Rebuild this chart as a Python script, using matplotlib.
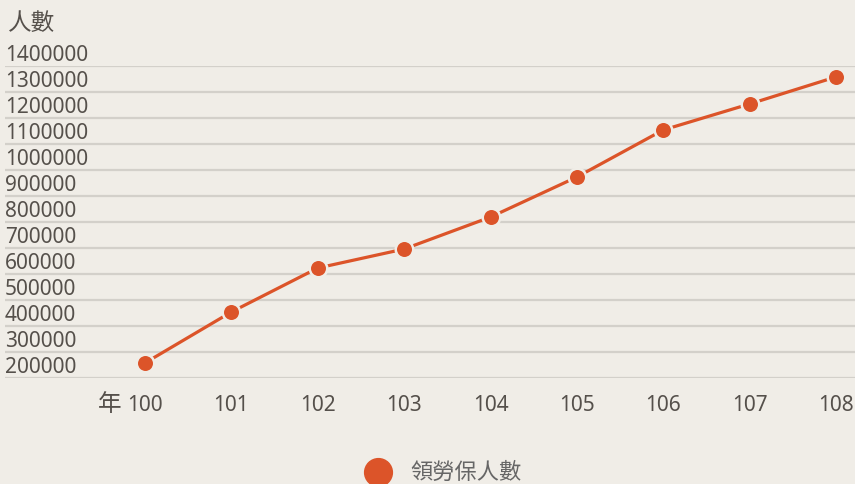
import matplotlib.pyplot as plt

plt.rcParams['font.family'] = ['Noto Sans', 'Noto Sans CJK TC', 'DejaVu Sans']

years = [100, 101, 102, 103, 104, 105, 106, 107, 108]
people = [258000, 454000, 623000, 696000, 819000, 973000, 1154000, 1254000, 1358000]
yticks = [200000, 300000, 400000, 500000, 600000, 700000, 800000, 900000,
          1000000, 1100000, 1200000, 1300000, 1400000]
series_name = '領勞保人數'

bg = '#f0ede7'
red = '#dc5429'
grid = '#d3d0ca'
txt = '#55504b'

fig = plt.figure(figsize=(8.55, 4.84), dpi=100, facecolor=bg)
ax = fig.add_axes([5 / 855, 106 / 484, 850 / 855, 312 / 484], facecolor=bg)

ax.plot(years, people, color=red, lw=2.3, marker='o', ms=12.6,
        mfc=red, mec=bg, mew=1.8, clip_on=False, zorder=3)

ax.set_xlim(98.379, 108.22)
ax.set_ylim(200000, 1400000)
ax.set_yticks(yticks)
ax.set_yticklabels([str(v) for v in yticks])
ax.set_xticks(years)
ax.set_xticklabels([str(v) for v in years])

for lab in ax.get_yticklabels():
    lab.set_ha('left')
    lab.set_va('bottom')
ax.tick_params(axis='y', length=0, pad=0, labelsize=15, labelcolor=txt)
ax.tick_params(axis='x', length=0, pad=12, labelsize=15, labelcolor=txt)

ax.grid(axis='y', color=grid, lw=1.6)
ax.set_axisbelow(True)
for s in ax.spines.values():
    s.set_visible(False)

ax.annotate('年', xy=(years[0], 200000), xytext=(-17, -19.5),
            textcoords='offset points', ha='right', va='center',
            fontsize=17, color=txt)

fig.text(8 / 855, 1 - 24 / 484, '人數', fontsize=17, color=txt,
         ha='left', va='center')

# legend
fig.add_artist(plt.Line2D([378 / 855], [1 - 472 / 484], marker='o', ms=20,
                          color=red, mec=red, transform=fig.transFigure))
fig.text(410 / 855, 1 - 473 / 484, series_name, fontsize=16, color='#666666',
         ha='left', va='center')

fig.savefig('out.png', dpi=100, facecolor=bg)
